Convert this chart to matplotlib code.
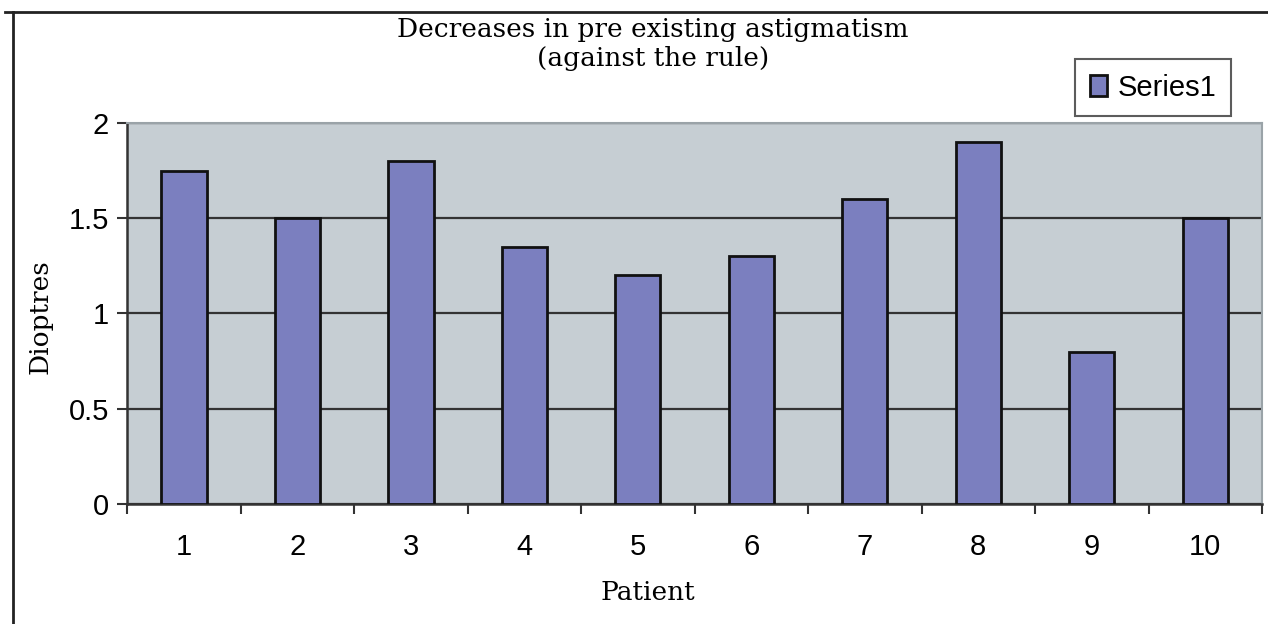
import matplotlib.pyplot as plt
from matplotlib.lines import Line2D
from matplotlib.ticker import FixedLocator, NullFormatter

patients = ["1", "2", "3", "4", "5", "6", "7", "8", "9", "10"]
dioptres = [1.75, 1.5, 1.8, 1.35, 1.2, 1.3, 1.6, 1.9, 0.8, 1.5]
y_ticks = [0, 0.5, 1, 1.5, 2]
y_tick_labels = ["0", "0.5", "1", "1.5", "2"]

bar_color = "#7b7fbf"
plot_bg = "#c6ced3"
serif = ["DejaVu Serif"]
sans = ["Liberation Sans", "DejaVu Sans"]

fig = plt.figure(figsize=(12.68, 6.24), dpi=100)
ax = fig.add_axes([0.1002, 0.1923, 0.8951, 0.6106])
ax.set_facecolor(plot_bg)

x = list(range(len(patients)))
bars = ax.bar(x, dioptres, width=0.4, color=bar_color, edgecolor="#111111",
              linewidth=2, label="Series1", zorder=3)

ax.set_xlim(-0.5, len(patients) - 0.5)
ax.set_ylim(0, 2)

ax.set_yticks(y_ticks)
ax.set_yticklabels(y_tick_labels, family=sans, fontsize=21)
ax.yaxis.grid(True, color="#333333", linewidth=1.6, zorder=1)
ax.set_axisbelow(True)

ax.set_xticks(x)
ax.set_xticklabels(patients, family=sans, fontsize=21)
ax.tick_params(axis="x", which="major", length=0, pad=21)
ax.xaxis.set_minor_locator(FixedLocator([i + 0.5 for i in range(-1, len(patients))]))
ax.xaxis.set_minor_formatter(NullFormatter())
ax.tick_params(axis="x", which="minor", length=7, width=1.5, color="#333333")
ax.tick_params(axis="y", length=7, width=1.5, color="#333333", pad=6)

ax.spines["left"].set_color("#333333")
ax.spines["left"].set_linewidth(1.8)
ax.spines["bottom"].set_color("#333333")
ax.spines["bottom"].set_linewidth(1.8)
ax.spines["top"].set_color("#9aa3a8")
ax.spines["top"].set_linewidth(1.5)
ax.spines["right"].set_color("#9aa3a8")
ax.spines["right"].set_linewidth(1.5)

ax.set_xlabel("Patient", family=serif, fontsize=19, va="center")
ax.xaxis.set_label_coords(0.459, -0.231)
ax.set_ylabel("Dioptres", family=serif, fontsize=19, va="center")
ax.yaxis.set_label_coords(-0.0767, 0.491)

fig.text(0.515, 0.953, "Decreases in pre existing astigmatism", family=serif,
         fontsize=19, ha="center", va="center")
fig.text(0.515, 0.906, "(against the rule)", family=serif,
         fontsize=19, ha="center", va="center")

leg = fig.legend(handles=[bars], labels=["Series1"], loc="upper left",
                 bbox_to_anchor=(0.8478, 0.9054), frameon=True, fancybox=False,
                 prop={"family": sans, "size": 21}, handlelength=0.6,
                 handleheight=0.7, handletextpad=0.35, borderpad=0.5,
                 borderaxespad=0)
leg.get_frame().set_edgecolor("#333333")
leg.get_frame().set_linewidth(1.5)

# outer frame lines
fig.add_artist(Line2D([0.0101, 0.0101], [0, 0.9808], transform=fig.transFigure,
                      color="#222222", linewidth=2))
fig.add_artist(Line2D([0.004, 1.0], [0.9808, 0.9808], transform=fig.transFigure,
                      color="#222222", linewidth=2))

fig.savefig("out.png", dpi=100)
